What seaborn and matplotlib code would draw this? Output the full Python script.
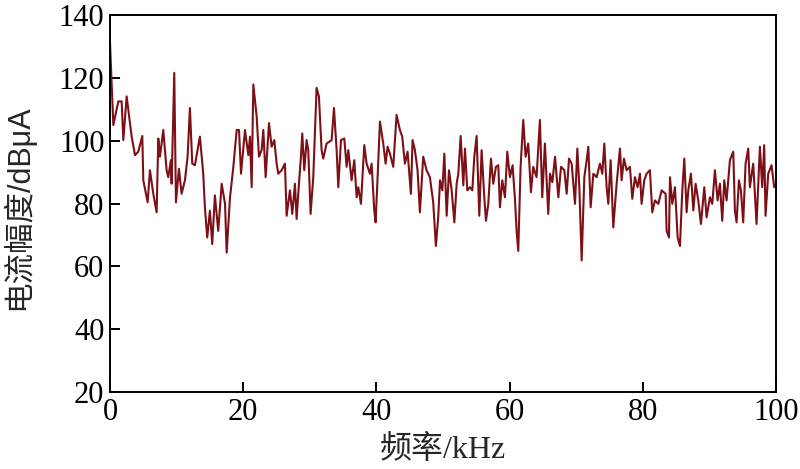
import matplotlib
matplotlib.use("Agg")
import matplotlib.pyplot as plt
import seaborn as sns
import pandas as pd

# Valores: frequência (kHz) e amplitude de corrente (dBμA)
freq_khz = [
    0.0, 0.5, 1.25, 1.75, 2.0, 2.5, 3.25, 3.75, 4.25, 4.85, 5.0, 5.65, 6.0, 6.5, 7.0,
    7.25, 7.5, 8.0, 8.5, 8.75, 9.15, 9.25, 9.65, 9.9, 10.35, 10.75, 11.25, 11.65, 12.0,
    12.35, 12.75, 13.5, 14.0, 14.25, 14.6, 15.0, 15.35, 15.75, 16.25,
    16.77, 17.27, 17.52, 18.02, 18.52, 19.02, 19.37, 19.67, 20.27, 20.77, 21.02, 21.27,
    21.52, 22.02, 22.37, 22.77, 23.02, 23.37, 23.87, 24.27, 24.67, 25.02, 25.27, 25.77,
    26.27, 26.52, 27.02, 27.37, 27.77, 28.02, 28.37, 28.67, 28.87, 29.17, 29.52, 29.77,
    30.12, 30.52, 31.02, 31.37, 31.77, 32.02, 32.52,
    33.28, 33.63, 34.03, 34.28, 34.68, 35.18, 35.53, 35.78, 36.28, 36.68, 37.03, 37.28,
    37.68, 38.18, 38.53, 39.03, 39.28, 39.68, 39.88, 40.18, 40.53, 41.03, 41.38, 41.68,
    42.03, 42.53, 43.03, 43.53, 43.88, 44.28, 44.68, 45.18, 45.43, 45.78, 46.18, 46.53,
    47.03, 47.53, 48.03, 48.53, 48.93, 49.28,
    49.55, 49.9, 50.2, 50.55, 50.9, 51.3, 51.7, 52.05, 52.3, 52.65, 53.05, 53.3, 53.65,
    54.05, 54.4, 54.7, 55.05, 55.45, 55.8, 56.2, 56.45, 56.8, 57.2, 57.55, 57.95, 58.3,
    58.55, 58.9, 59.3, 59.65, 60.05, 60.45, 60.8, 61.05, 61.3, 61.65, 62.05, 62.4, 62.8,
    63.2, 63.55, 64.05, 64.55, 64.9, 65.3, 65.8,
    66.07, 66.42, 66.82, 67.32, 67.72, 68.22, 68.57, 68.92, 69.32, 69.82, 70.17, 70.47,
    70.82, 71.22, 71.57, 71.82, 72.17, 72.57, 73.07, 73.57, 73.92, 74.22, 74.57, 74.82,
    75.17, 75.57, 76.07, 76.57, 76.82, 77.17, 77.57, 78.07, 78.42, 78.82, 79.22, 79.57,
    79.82, 80.22, 80.57, 81.07, 81.42, 81.82, 82.32,
    82.83, 83.43, 83.58, 83.93, 84.08, 84.43, 84.83, 85.23, 85.58, 85.93, 86.23, 86.58,
    86.83, 87.23, 87.58, 87.93, 88.33, 88.73, 89.23, 89.58, 90.08, 90.43, 90.83, 91.23,
    91.58, 91.93, 92.23, 92.58, 93.08, 93.58, 93.83, 94.08, 94.43, 94.73, 95.08, 95.43,
    95.83, 96.08, 96.58, 97.08, 97.58, 97.93, 98.23, 98.43, 98.83, 99.33, 99.73, 100.0,
]
amp_dbua = [
    131.2, 105.0, 112.5, 112.5, 100.2, 114.1, 101.3, 95.4, 96.5, 101.5, 87.4, 80.4, 90.6, 83.1, 77.2,
    100.7, 94.9, 103.4, 90.6, 88.4, 93.8, 86.3, 121.6, 80.4, 91.1, 83.1, 87.4, 94.9, 110.4,
    92.7, 92.2, 101.3, 89.5, 78.8, 69.2, 77.7, 67.1, 82.6, 71.3,
    86.3, 79.9, 64.4, 82.0, 91.7, 103.4, 103.4, 89.5, 103.4, 95.4, 101.3, 85.2,
    117.9, 107.7, 94.9, 97.0, 103.4, 88.4, 105.6, 98.1, 100.2, 92.7, 89.5, 90.6,
    92.7, 76.1, 84.2, 76.7, 86.3, 75.1, 86.3, 94.9, 102.3, 90.6, 100.2, 97.0,
    76.7, 88.4, 116.8, 114.1, 97.0, 94.3, 99.1,
    100.2, 110.4, 97.0, 85.2, 100.2, 100.7, 91.7, 97.0, 87.4, 93.8, 82.0, 85.2,
    79.9, 98.6, 92.7, 89.5, 92.7, 77.8, 74.0, 88.4, 106.1, 99.1, 92.7, 98.1,
    95.9, 91.7, 108.2, 103.4, 101.3, 92.7, 96.5, 83.1, 100.2, 97.0, 90.6, 77.2,
    94.9, 90.6, 88.4, 80.4, 66.5, 75.6,
    87.4, 84.2, 95.9, 76.1, 90.6, 84.2, 74.0, 86.3, 89.5, 101.5, 85.8, 97.5, 84.2,
    85.2, 84.2, 94.9, 101.5, 76.1, 97.0, 82.0, 74.5, 79.9, 94.3, 86.3, 91.7, 92.2,
    78.8, 87.4, 82.0, 96.5, 88.4, 92.2, 81.5, 71.3, 64.9, 91.7, 106.6, 94.9, 99.1,
    83.6, 91.7, 88.4, 106.6, 82.0, 99.1, 76.7,
    89.5, 86.8, 94.9, 82.0, 91.7, 90.6, 83.1, 94.3, 92.7, 79.9, 97.5, 85.2,
    61.9, 88.4, 93.8, 98.1, 78.8, 89.5, 88.4, 92.7, 89.5, 99.1, 85.2, 79.9,
    93.8, 72.4, 86.3, 97.5, 87.4, 94.3, 90.6, 91.7, 81.5, 88.4, 85.2, 89.5,
    79.9, 87.4, 89.5, 90.6, 77.2, 81.0, 79.9,
    84.2, 83.1, 71.3, 69.2, 88.4, 79.9, 85.2, 69.2, 66.5, 84.2, 94.3, 77.2,
    84.2, 89.5, 77.8, 86.3, 81.0, 73.5, 85.2, 75.6, 82.0, 79.9, 90.6, 81.0,
    86.3, 74.5, 87.4, 81.0, 93.8, 96.5, 77.8, 74.0, 87.4, 84.2, 74.0, 92.7,
    97.5, 85.2, 92.7, 73.5, 98.1, 85.2, 98.6, 76.1, 89.5, 92.2, 85.2, 86.0,
]

x_ticks = [0, 20, 40, 60, 80, 100]
y_ticks = [20, 40, 60, 80, 100, 120, 140]

df = pd.DataFrame({"freq": freq_khz, "amp": amp_dbua})

sns.set_style("ticks")
plt.rcParams["font.family"] = ["Liberation Serif", "Noto Sans CJK SC", "DejaVu Sans"]

fig = plt.figure(figsize=(8, 4.69), dpi=100)
ax = fig.add_axes([0.1375, 0.164, 0.8325, 0.804])

sns.lineplot(data=df, x="freq", y="amp", ax=ax, color="#7d1016", linewidth=1.5)

ax.set_xlim(0, 100)
ax.set_ylim(20, 140)
ax.set_xticks(x_ticks)
ax.set_yticks(y_ticks)
ax.tick_params(direction="in", length=7, width=1.4, labelsize=22, pad=4, colors="black")
for sp in ax.spines.values():
    sp.set_visible(True)
    sp.set_linewidth(1.4)
    sp.set_color("black")

ax.set_xlabel("频率/kHz", fontsize=23, labelpad=6,
              family=["Liberation Serif", "Noto Sans CJK SC"])
ax.set_ylabel("电流幅度/dBμA", fontsize=22,
              family=["Liberation Sans", "Noto Sans CJK SC"])
ax.yaxis.set_label_coords(-0.114, 0.49)

plt.savefig("out.png", dpi=100)
